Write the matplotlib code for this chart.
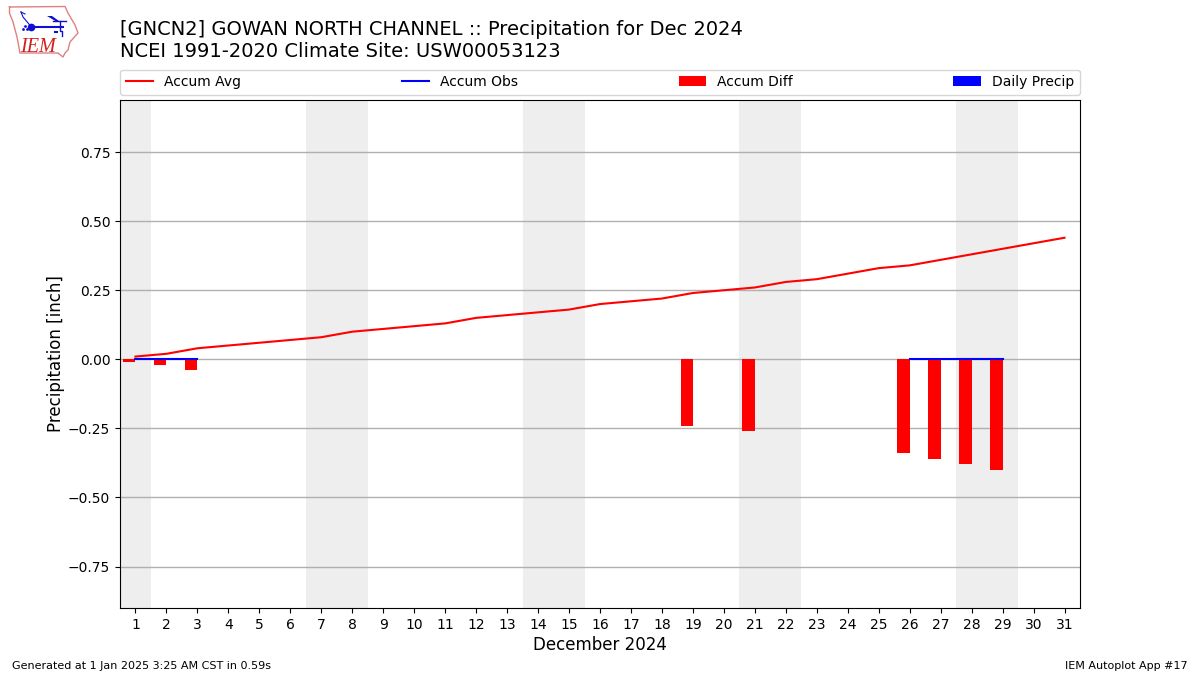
import numpy as np
import matplotlib
matplotlib.use("Agg")
import matplotlib.pyplot as plt

days = list(range(1, 32))
accum_avg = [0.01, 0.02, 0.04, 0.05, 0.06, 0.07, 0.08, 0.10, 0.11, 0.12, 0.13,
             0.15, 0.16, 0.17, 0.18, 0.20, 0.21, 0.22, 0.24, 0.25, 0.26, 0.28,
             0.29, 0.31, 0.33, 0.34, 0.36, 0.38, 0.40, 0.42, 0.44]
obs_days = [1, 2, 3, 19, 21, 26, 27, 28, 29]
accum_obs = [0, 0, 0, 0, 0, 0, 0, 0, 0]
accum_diff = [-0.01, -0.02, -0.04, -0.24, -0.26, -0.34, -0.36, -0.38, -0.40]
daily_precip = [0, 0, 0, 0, 0, 0, 0, 0, 0]
weekend_days = [1, 7, 8, 14, 15, 21, 22, 28, 29]
y_ticks = [-0.75, -0.50, -0.25, 0.00, 0.25, 0.50, 0.75]

title = ("[GNCN2] GOWAN NORTH CHANNEL :: Precipitation for Dec 2024\n"
         "NCEI 1991-2020 Climate Site: USW00053123")

fig = plt.figure(figsize=(12, 6.75), dpi=100)
ax = fig.add_axes([0.1, 67 / 675, 0.8, 508 / 675])
ax.set_axisbelow(True)

for d in weekend_days:
    ax.axvspan(d - 0.5, d + 0.5, color="#EEEEEE", lw=0, zorder=0)

# Full series on a day axis; days without an observation stay as gaps
obs_series = [np.nan] * len(days)
for d, v in zip(obs_days, accum_obs):
    obs_series[d - 1] = v

ax.plot(days, accum_avg, color="r", lw=1.5, label="Accum Avg", zorder=3)
ax.plot(days, obs_series, color="b", lw=1.5, label="Accum Obs", zorder=3)
ax.bar(obs_days, accum_diff, width=-0.4, align="edge", color="r",
       label="Accum Diff", zorder=2)
ax.bar(obs_days, daily_precip, width=0.4, align="edge", color="b",
       label="Daily Precip", zorder=2)

ax.set_xlim(0.5, 31.5)
ax.set_ylim(-0.900, 0.9385)
ax.set_xticks(days)
ax.set_yticks(y_ticks)
ax.set_yticklabels([f"{v:.2f}".replace("-", "\u2212") for v in y_ticks])
ax.grid(axis="y", color="#b0b0b0", lw=1)
ax.tick_params(labelsize=10)
ax.set_xlabel("December 2024", fontsize=12, labelpad=3)
ax.set_ylabel("Precipitation [inch]", fontsize=12, labelpad=2.5)

ax.legend(loc="lower left", bbox_to_anchor=(0, 1.0105, 1, 0.05), mode="expand",
          ncol=4, borderaxespad=0, fontsize=10)

fig.text(0.1, 1 - 61 / 675, title, fontsize=14, ha="left", va="bottom",
         linespacing=1.17)
fig.text(12 / 1200, 1 - 666 / 675, "Generated at 1 Jan 2025 3:25 AM CST in 0.59s",
         fontsize=8, ha="left", va="center")
fig.text(1188 / 1200, 1 - 666 / 675, "IEM Autoplot App #17",
         fontsize=8, ha="right", va="center")

# Logo, drawn in reference pixel coordinates
logo = fig.add_axes([0, 1 - 60 / 675, 80 / 1200, 60 / 675])
logo.set_xlim(0, 80)
logo.set_ylim(60, 0)
logo.axis("off")
outline_x = [9.5, 65, 68, 75, 78, 70, 68, 65, 63, 58, 20, 17, 13, 9.5, 9.5]
outline_y = [7, 6.5, 13, 25, 33, 42, 50, 53, 57, 53, 53, 37, 22, 13, 7]
logo.plot(outline_x, outline_y, color="#e08080", lw=1)
logo.plot([31, 63], [26.5, 26.5], color="#1010d0", lw=1.5)
logo.plot([31], [26.5], "o", color="#1010d0", ms=4.5)
logo.plot([31, 23, 21], [26.5, 17, 12], color="#1010d0", lw=0.8)
logo.plot([21, 25], [12, 14], color="#1010d0", lw=0.8)
logo.fill([47, 52, 59, 57], [16, 16, 21, 22], color="#1010d0", lw=0)
logo.plot([53, 66], [21, 21], color="#1010d0", lw=1)
logo.plot([60, 60, 62, 62], [21, 31, 31, 36], color="#1010d0", lw=1)
logo.plot([55, 57], [32, 32], color="#1010d0", lw=1.5)
logo.plot([23, 25, 27], [29, 26, 29], ".", color="#1010d0", ms=2)
logo.text(20.5, 52, "IEM", color="#d02020", fontsize=14.5, style="italic",
          family="Liberation Serif", ha="left", va="baseline")

fig.savefig("out.png", dpi=100)
